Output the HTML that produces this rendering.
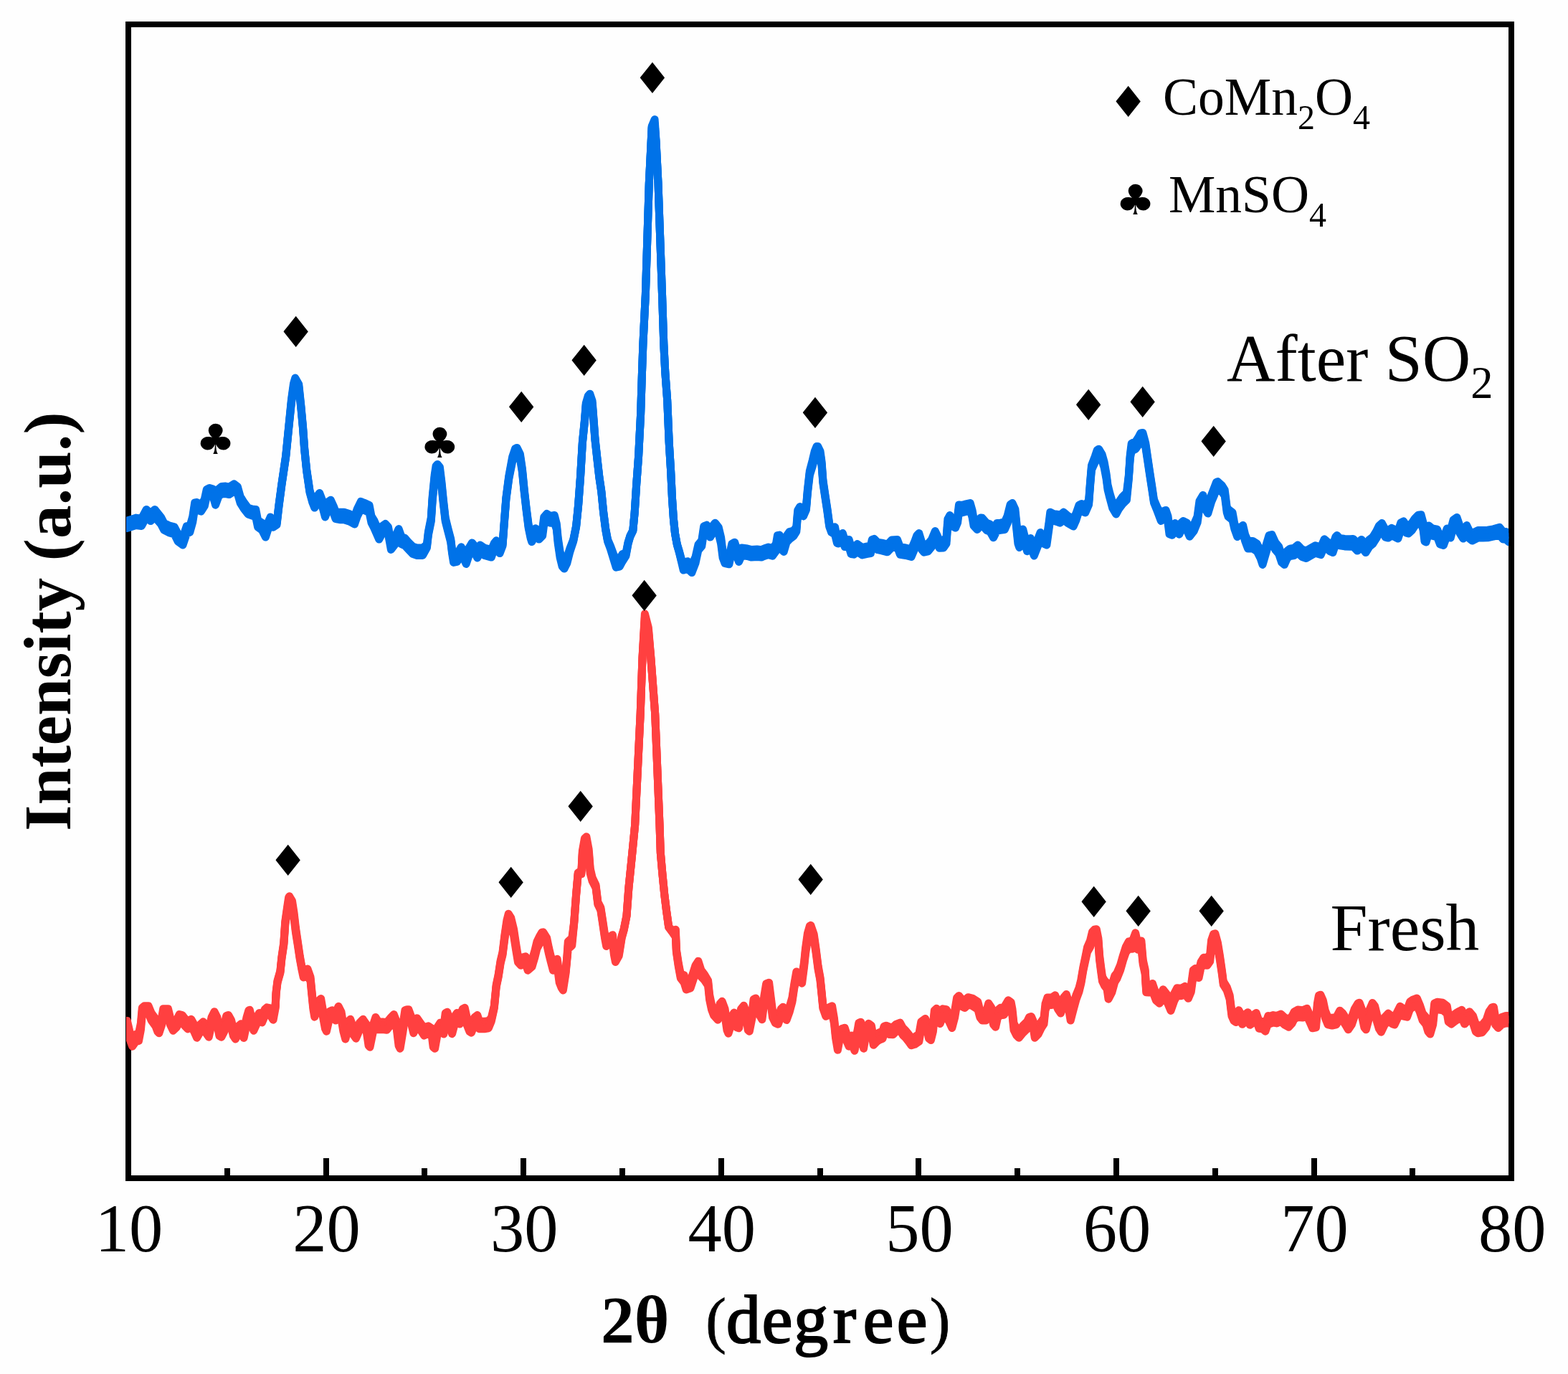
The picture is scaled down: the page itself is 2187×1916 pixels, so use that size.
<!DOCTYPE html>
<html lang="en"><head><meta charset="utf-8"><title>XRD patterns</title>
<style>
html,body{margin:0;padding:0;background:#fefefe;}
body{width:2187px;height:1916px;overflow:hidden;}
svg{display:block;}
text{font-family:"Liberation Serif","DejaVu Serif",serif;fill:#000;}
.tick{font-size:94.5px;text-anchor:middle;}
.lab{font-size:93.5px;}
.leg{font-size:73.5px;}
.b{font-weight:bold;}
.sym{font-family:"DejaVu Sans","Liberation Sans",sans-serif;text-anchor:middle;}
</style></head><body>
<svg width="2187" height="1916" viewBox="0 0 2187 1916">
<rect x="0" y="0" width="2187" height="1916" fill="#fefefe"/>
<defs><clipPath id="plotclip"><rect x="176" y="34" width="1928.3" height="1609"/></clipPath></defs>
<rect x="179" y="34" width="1929" height="1609" fill="none" stroke="#000" stroke-width="8"/>
<rect x="313" y="1629" width="8" height="14" fill="#000"/>
<rect x="451" y="1615" width="8" height="28" fill="#000"/>
<rect x="588" y="1629" width="8" height="14" fill="#000"/>
<rect x="726" y="1615" width="8" height="28" fill="#000"/>
<rect x="864" y="1629" width="8" height="14" fill="#000"/>
<rect x="1002" y="1615" width="8" height="28" fill="#000"/>
<rect x="1140" y="1629" width="8" height="14" fill="#000"/>
<rect x="1277" y="1615" width="8" height="28" fill="#000"/>
<rect x="1415" y="1629" width="8" height="14" fill="#000"/>
<rect x="1553" y="1615" width="8" height="28" fill="#000"/>
<rect x="1691" y="1629" width="8" height="14" fill="#000"/>
<rect x="1829" y="1615" width="8" height="28" fill="#000"/>
<rect x="1966" y="1629" width="8" height="14" fill="#000"/>
<g clip-path="url(#plotclip)" fill="none" stroke="#0072e8" stroke-width="11" stroke-linejoin="round" stroke-linecap="butt">
<path d="M173.0,726.0 L177.8,726.0 L189.6,722.1 L197.4,723.1 L204.2,710.4 L210.1,716.2 L215.9,710.4 L224.7,721.4 L228.7,729.3 L236.5,733.2 L243.3,734.9 L248.2,744.6 L255.0,749.5 L260.3,733.8 L264.8,734.0 L268.7,720.5 L271.7,700.9 L274.6,700.5 L280.5,704.3 L285.3,696.2 L288.3,682.4 L292.2,680.6 L297.1,682.1 L300.6,693.8 L304.9,682.0 L308.8,678.6 L314.7,678.1 L319.6,679.1 L326.4,674.8 L331.3,678.6 L335.2,692.4 L340.1,700.3 L346.0,708.2 L351.8,710.1 L356.7,710.4 L359.6,725.4 L365.5,729.1 L370.4,738.6 L374.3,727.4 L377.2,721.0 L381.1,729.2 L386.0,728.4 L389.0,703.4 L392.9,674.4 L398.7,635.4 L402.6,596.0 L406.6,555.9 L409.5,534.8 L411.8,527.1 L416.7,535.7 L419.9,566.1 L422.6,595.8 L424.7,625.3 L427.7,654.7 L432.0,683.8 L435.9,697.0 L438.8,697.6 L442.7,691.3 L445.7,687.5 L450.5,699.9 L453.5,710.4 L457.8,699.7 L461.3,697.2 L465.2,705.7 L468.1,713.4 L475.0,714.3 L479.9,714.2 L487.7,716.8 L494.5,720.5 L498.4,709.4 L503.3,699.5 L509.2,701.7 L515.1,704.5 L518.0,719.8 L521.9,726.0 L528.7,741.6 L533.6,733.2 L537.5,730.5 L541.5,735.0 L545.4,755.9 L551.2,748.5 L556.1,737.6 L560.0,748.6 L564.9,750.5 L570.0,756.5 L575.9,762.2 L581.7,764.0 L589.6,764.0 L595.4,759.2 L597.4,741.6 L601.3,721.9 L603.2,692.3 L606.2,662.1 L608.1,649.6 L610.1,647.4 L613.4,651.3 L615.9,671.8 L618.3,696.1 L621.2,722.0 L625.1,737.9 L628.7,751.4 L630.6,766.8 L632.6,773.9 L637.4,772.9 L643.3,762.8 L646.6,768.1 L650.2,775.9 L654.1,764.1 L658.4,756.9 L662.9,762.2 L665.8,767.5 L669.7,760.1 L675.6,764.1 L685.3,766.6 L689.3,757.5 L692.2,753.8 L697.1,761.1 L701.0,757.9 L702.9,732.6 L705.9,693.6 L709.8,663.8 L714.7,637.1 L718.6,625.5 L721.1,624.4 L725.4,633.2 L728.4,653.6 L731.3,683.3 L734.2,708.8 L737.2,732.0 L740.1,745.1 L741.7,745.0 L746.9,736.8 L751.8,741.6 L756.7,736.9 L758.7,721.1 L762.6,716.5 L767.5,719.6 L773.3,718.5 L776.3,730.4 L778.2,749.9 L781.1,769.2 L784.1,780.2 L787.0,782.6 L790.9,777.0 L794.8,765.1 L799.7,752.5 L803.6,733.3 L806.6,704.0 L809.5,664.9 L812.4,615.9 L815.4,586.0 L817.3,562.0 L820.2,552.2 L822.8,549.2 L826.1,559.0 L828.1,585.4 L830.0,611.4 L833.0,639.2 L835.9,664.8 L838.8,684.4 L841.7,713.7 L844.7,737.0 L847.6,752.3 L851.5,761.4 L855.4,772.0 L859.3,780.8 L864.2,779.8 L868.1,772.5 L873.0,771.3 L876.0,756.4 L878.9,747.0 L882.8,739.6 L885.2,714.3 L887.7,675.3 L890.6,636.2 L893.6,577.6 L895.5,519.0 L896.9,479.9 L900.4,409.8 L905.3,255.1 L909.2,175.8 L913.1,166.6 L915.0,195.7 L918.0,255.1 L923.5,409.8 L925.8,479.8 L927.8,519.0 L930.7,558.0 L933.2,616.7 L935.6,655.8 L937.5,694.9 L939.5,724.1 L941.5,743.5 L944.4,759.0 L947.3,768.3 L950.3,779.5 L953.2,784.6 L959.1,782.8 L964.9,788.1 L970.0,776.9 L973.9,759.6 L978.8,753.6 L981.7,733.9 L985.6,732.2 L990.5,738.6 L994.4,733.0 L997.4,729.2 L1002.3,735.5 L1005.6,749.3 L1008.1,768.8 L1011.1,776.5 L1016.9,776.2 L1020.8,758.3 L1024.7,756.2 L1028.7,768.1 L1030.6,772.9 L1034.5,764.0 L1042.3,765.0 L1048.2,766.6 L1056.0,766.0 L1061.9,766.6 L1065.8,765.0 L1071.7,763.1 L1077.5,764.6 L1082.4,758.5 L1084.4,746.7 L1087.3,746.1 L1090.2,756.6 L1093.2,758.9 L1097.1,747.2 L1101.0,741.6 L1106.9,740.1 L1110.8,734.8 L1112.7,711.6 L1115.7,706.5 L1120.5,709.4 L1124.4,706.3 L1126.4,682.8 L1129.3,657.0 L1133.2,642.1 L1136.2,629.4 L1139.1,622.5 L1140.7,622.4 L1144.0,629.1 L1146.0,643.4 L1147.9,669.3 L1150.8,689.1 L1153.8,708.7 L1156.7,730.1 L1159.6,737.7 L1164.5,734.8 L1167.5,750.0 L1169.4,747.5 L1175.3,743.5 L1178.2,752.7 L1184.1,752.4 L1187.0,762.3 L1190.9,762.8 L1195.8,758.6 L1202.6,763.5 L1208.5,762.2 L1214.4,761.1 L1216.3,752.4 L1219.3,751.4 L1224.2,756.3 L1230.0,757.2 L1237.8,759.2 L1243.7,753.0 L1251.5,752.4 L1255.4,762.8 L1263.3,764.0 L1271.1,766.0 L1276.0,754.4 L1278.9,746.5 L1281.8,743.5 L1285.7,756.3 L1288.7,759.6 L1294.5,758.2 L1299.4,752.4 L1304.3,740.6 L1307.2,746.7 L1310.2,753.8 L1316.0,753.4 L1320.0,749.3 L1321.9,723.9 L1324.8,718.5 L1329.7,725.9 L1332.7,725.5 L1335.6,719.8 L1337.5,703.9 L1341.5,704.5 L1347.3,702.9 L1353.2,701.5 L1356.1,711.7 L1358.1,723.4 L1363.0,728.0 L1367.8,722.0 L1370.0,722.3 L1375.9,729.1 L1380.8,730.9 L1385.6,739.2 L1390.5,729.5 L1395.4,729.2 L1401.3,728.0 L1405.2,719.2 L1409.1,703.5 L1412.0,701.5 L1415.9,710.0 L1417.9,729.8 L1419.9,749.4 L1421.8,753.0 L1426.7,738.0 L1429.6,749.1 L1432.6,758.2 L1437.4,750.5 L1442.3,764.5 L1447.2,752.6 L1451.1,742.5 L1456.0,749.2 L1459.9,749.5 L1462.9,729.8 L1464.8,714.2 L1469.7,716.6 L1474.6,717.1 L1478.5,718.8 L1483.4,714.2 L1489.3,719.2 L1497.1,723.6 L1501.0,715.8 L1504.9,704.5 L1508.8,702.5 L1513.7,704.5 L1518.6,698.1 L1520.5,672.6 L1522.5,648.9 L1527.4,636.1 L1530.3,627.5 L1532.7,626.2 L1537.2,633.9 L1540.1,644.3 L1543.0,660.5 L1545.0,676.2 L1547.9,687.8 L1551.8,700.9 L1556.7,706.5 L1560.6,699.9 L1565.5,692.8 L1571.4,686.9 L1574.3,663.3 L1576.3,634.0 L1578.2,618.5 L1584.1,615.5 L1588.0,609.6 L1590.9,603.9 L1593.9,603.4 L1597.8,618.0 L1600.7,638.0 L1603.6,657.7 L1606.6,677.2 L1609.5,696.8 L1614.4,708.1 L1619.3,715.9 L1623.2,712.6 L1626.1,711.4 L1629.0,719.7 L1631.0,735.2 L1634.9,735.8 L1638.8,729.5 L1644.7,734.8 L1647.6,729.0 L1650.5,726.5 L1655.4,729.1 L1659.3,737.8 L1665.2,731.5 L1670.1,720.1 L1673.0,698.6 L1677.9,690.4 L1681.8,702.4 L1684.8,705.5 L1689.6,690.3 L1693.6,680.1 L1696.5,672.3 L1698.4,671.6 L1704.3,676.8 L1708.2,683.1 L1711.2,706.9 L1713.1,710.0 L1719.0,714.6 L1721.9,730.5 L1725.8,738.0 L1729.7,735.7 L1733.6,732.5 L1736.6,745.3 L1740.5,754.4 L1747.3,754.4 L1753.2,758.2 L1758.1,768.1 L1761.0,776.9 L1765.9,760.2 L1770.0,746.5 L1773.9,745.5 L1778.8,756.3 L1783.7,762.3 L1787.6,774.0 L1791.5,776.9 L1795.4,768.1 L1799.3,765.1 L1805.2,764.1 L1810.1,760.1 L1815.9,766.1 L1821.8,768.0 L1828.7,764.1 L1834.5,760.8 L1842.3,763.1 L1847.2,751.8 L1850.2,754.4 L1855.0,758.3 L1859.0,760.1 L1862.9,748.5 L1864.8,746.5 L1868.7,750.5 L1875.6,751.4 L1883.4,751.8 L1887.3,751.4 L1893.2,757.6 L1899.0,752.4 L1904.9,760.1 L1909.8,752.6 L1914.7,748.8 L1919.6,740.9 L1923.5,733.0 L1927.4,729.5 L1932.3,738.7 L1936.2,739.6 L1941.1,736.4 L1946.0,738.7 L1949.9,740.6 L1953.8,729.0 L1957.7,727.0 L1961.6,733.0 L1964.5,733.5 L1969.4,729.0 L1973.3,723.1 L1978.2,718.2 L1982.1,717.8 L1985.1,729.1 L1987.0,744.7 L1989.0,745.5 L1992.9,732.9 L1997.8,736.9 L2004.6,738.2 L2008.5,748.5 L2013.4,749.9 L2018.3,736.9 L2023.2,739.6 L2027.1,725.0 L2032.0,721.5 L2035.9,732.9 L2040.8,740.6 L2045.7,732.5 L2049.6,740.7 L2053.5,743.5 L2061.3,739.6 L2068.1,739.6 L2075.0,739.2 L2082.8,737.8 L2091.6,735.4 L2096.5,741.7 L2100.4,741.6 L2104.7,745.6 L2108.0,745.6"/>
<path d="M173.0,731.2 L177.8,731.2 L189.6,727.3 L197.4,728.3 L204.2,715.6 L210.1,721.4 L215.9,715.6 L224.7,726.3 L228.7,734.2 L236.5,738.1 L243.3,740.0 L248.2,749.8 L255.0,754.7 L260.3,739.0 L264.8,738.1 L268.7,724.4 L271.7,704.8 L274.6,705.8 L280.5,708.7 L285.3,700.9 L288.3,687.2 L292.2,685.9 L297.1,687.2 L300.6,699.0 L304.9,687.2 L308.8,683.9 L314.7,683.3 L319.6,684.3 L326.4,680.0 L331.3,683.3 L335.2,697.0 L340.1,704.8 L346.0,712.6 L351.8,714.6 L356.7,715.6 L359.6,730.2 L365.5,734.2 L370.4,743.9 L374.3,732.2 L377.2,726.3 L381.1,732.2 L386.0,730.2 L389.0,704.8 L392.9,675.5 L398.7,636.4 L402.6,597.3 L406.6,558.2 L409.5,538.7 L411.8,532.4 L416.7,538.7 L419.9,568.0 L422.6,597.3 L424.7,626.6 L427.7,656.0 L432.0,685.3 L435.9,699.0 L438.8,702.9 L442.7,695.1 L445.7,692.7 L450.5,704.8 L453.5,715.6 L457.8,704.8 L461.3,702.5 L465.2,710.7 L468.1,718.5 L475.0,719.5 L479.9,719.5 L487.7,722.0 L494.5,725.8 L498.4,714.6 L503.3,704.8 L509.2,706.8 L515.1,709.7 L518.0,724.4 L521.9,731.2 L528.7,746.9 L533.6,738.1 L537.5,735.7 L541.5,740.0 L545.4,761.1 L551.2,753.7 L556.1,742.9 L560.0,753.7 L564.9,755.7 L570.0,761.5 L575.9,767.4 L581.7,769.3 L589.6,769.3 L595.4,761.5 L597.4,743.9 L601.3,724.4 L603.2,695.1 L606.2,665.7 L608.1,654.0 L610.1,652.6 L613.4,656.0 L615.9,675.5 L618.3,699.0 L621.2,724.4 L625.1,740.0 L628.7,753.7 L630.6,769.3 L632.6,779.1 L637.4,778.1 L643.3,768.0 L646.6,773.3 L650.2,781.1 L654.1,769.3 L658.4,762.1 L662.9,767.4 L665.8,772.7 L669.7,765.4 L675.6,769.3 L685.3,771.9 L689.3,761.5 L692.2,759.0 L697.1,766.4 L701.0,759.6 L702.9,734.2 L705.9,695.1 L709.8,665.7 L714.7,640.3 L718.6,630.5 L721.1,629.6 L725.4,636.4 L728.4,656.0 L731.3,685.3 L734.2,710.7 L737.2,734.2 L740.1,747.8 L741.7,750.2 L746.9,742.0 L751.8,746.9 L756.7,742.0 L758.7,726.3 L762.6,721.8 L767.5,724.4 L773.3,723.8 L776.3,734.2 L778.2,753.7 L781.1,773.3 L784.1,785.0 L787.0,787.9 L790.9,781.1 L794.8,767.4 L799.7,753.7 L803.6,734.2 L806.6,704.8 L809.5,665.7 L812.4,616.9 L815.4,587.5 L817.3,564.1 L820.2,556.2 L822.8,554.5 L826.1,562.1 L828.1,587.5 L830.0,612.9 L833.0,640.3 L835.9,665.7 L838.8,685.3 L841.7,714.6 L844.7,738.1 L847.6,753.7 L851.5,763.5 L855.4,775.2 L859.3,786.0 L864.2,785.0 L868.1,777.7 L873.0,773.3 L876.0,757.6 L878.9,747.8 L882.8,740.0 L885.2,714.6 L887.7,675.5 L890.6,636.4 L893.6,577.8 L895.5,519.1 L896.9,480.0 L900.4,410.0 L905.3,255.5 L909.2,177.3 L913.1,171.8 L915.0,196.9 L918.0,255.5 L923.5,410.0 L925.8,480.0 L927.8,519.1 L930.7,558.2 L933.2,616.9 L935.6,656.0 L937.5,695.1 L939.5,724.4 L941.5,743.9 L944.4,759.6 L947.3,769.3 L950.3,781.1 L953.2,789.9 L959.1,787.9 L964.9,793.4 L970.0,781.1 L973.9,763.5 L978.8,757.6 L981.7,738.1 L985.6,737.5 L990.5,743.9 L994.4,738.1 L997.4,734.5 L1002.3,740.0 L1005.6,753.7 L1008.1,773.3 L1011.1,781.1 L1016.9,781.5 L1020.8,763.5 L1024.7,761.5 L1028.7,773.3 L1030.6,778.1 L1034.5,769.3 L1042.3,770.3 L1048.2,771.9 L1056.0,771.3 L1061.9,771.9 L1065.8,770.3 L1071.7,768.4 L1077.5,769.9 L1082.4,763.5 L1084.4,751.7 L1087.3,751.4 L1090.2,761.5 L1093.2,764.1 L1097.1,751.7 L1101.0,746.9 L1106.9,743.9 L1110.8,738.1 L1112.7,714.6 L1115.7,711.7 L1120.5,714.6 L1124.4,708.7 L1126.4,685.3 L1129.3,659.9 L1133.2,646.2 L1136.2,634.4 L1139.1,627.6 L1140.7,627.6 L1144.0,632.5 L1146.0,646.2 L1147.9,671.6 L1150.8,691.1 L1153.8,710.7 L1156.7,732.2 L1159.6,740.0 L1164.5,740.0 L1167.5,753.7 L1169.4,752.7 L1175.3,748.8 L1178.2,757.6 L1184.1,757.6 L1187.0,767.4 L1190.9,768.0 L1195.8,763.9 L1202.6,768.8 L1208.5,767.4 L1214.4,766.4 L1216.3,757.6 L1219.3,756.6 L1224.2,761.5 L1230.0,762.5 L1237.8,764.5 L1243.7,758.2 L1251.5,757.6 L1255.4,768.0 L1263.3,769.3 L1271.1,771.3 L1276.0,759.6 L1278.9,751.7 L1281.8,748.8 L1285.7,761.5 L1288.7,764.9 L1294.5,763.5 L1299.4,757.6 L1304.3,745.9 L1307.2,751.7 L1310.2,759.0 L1316.0,758.6 L1320.0,753.7 L1321.9,728.3 L1324.8,723.8 L1329.7,730.2 L1332.7,730.8 L1335.6,724.4 L1337.5,708.7 L1341.5,709.7 L1347.3,708.1 L1353.2,706.8 L1356.1,716.6 L1358.1,728.3 L1363.0,733.2 L1367.8,727.3 L1370.0,727.3 L1375.9,734.2 L1380.8,736.1 L1385.6,744.5 L1390.5,734.7 L1395.4,734.2 L1401.3,733.2 L1405.2,724.4 L1409.1,708.7 L1412.0,706.8 L1415.9,714.6 L1417.9,734.2 L1419.9,753.7 L1421.8,758.2 L1426.7,743.3 L1429.6,753.7 L1432.6,763.5 L1437.4,755.7 L1442.3,769.7 L1447.2,757.6 L1451.1,747.8 L1456.0,753.7 L1459.9,754.7 L1462.9,734.2 L1464.8,719.5 L1469.7,721.4 L1474.6,722.4 L1478.5,724.0 L1483.4,719.5 L1489.3,724.4 L1497.1,728.9 L1501.0,720.5 L1504.9,708.7 L1508.8,707.8 L1513.7,709.7 L1518.6,700.9 L1520.5,675.5 L1522.5,652.0 L1527.4,640.3 L1530.3,632.5 L1532.7,631.5 L1537.2,638.4 L1540.1,648.1 L1543.0,663.8 L1545.0,679.4 L1547.9,691.1 L1551.8,704.8 L1556.7,711.7 L1560.6,704.8 L1565.5,698.0 L1571.4,692.1 L1574.3,665.7 L1576.3,636.4 L1578.2,623.7 L1584.1,620.8 L1588.0,614.9 L1590.9,609.0 L1593.9,608.6 L1597.8,620.8 L1600.7,640.3 L1603.6,659.9 L1606.6,679.4 L1609.5,699.0 L1614.4,710.7 L1619.3,721.1 L1623.2,716.6 L1626.1,716.6 L1629.0,724.4 L1631.0,740.0 L1634.9,741.0 L1638.8,734.7 L1644.7,740.0 L1647.6,734.2 L1650.5,731.8 L1655.4,734.2 L1659.3,743.0 L1665.2,736.1 L1670.1,724.4 L1673.0,702.9 L1677.9,695.6 L1681.8,706.8 L1684.8,710.7 L1689.6,695.1 L1693.6,685.3 L1696.5,677.5 L1698.4,676.9 L1704.3,681.4 L1708.2,687.2 L1711.2,710.7 L1713.1,715.2 L1719.0,719.9 L1721.9,734.2 L1725.8,743.3 L1729.7,740.0 L1733.6,737.7 L1736.6,749.8 L1740.5,759.6 L1747.3,759.6 L1753.2,763.5 L1758.1,773.3 L1761.0,782.1 L1765.9,765.4 L1770.0,751.7 L1773.9,750.8 L1778.8,761.5 L1783.7,767.4 L1787.6,779.1 L1791.5,782.1 L1795.4,773.3 L1799.3,770.3 L1805.2,769.3 L1810.1,765.4 L1815.9,771.3 L1821.8,773.3 L1828.7,769.3 L1834.5,766.0 L1842.3,768.4 L1847.2,757.0 L1850.2,759.6 L1855.0,763.5 L1859.0,765.4 L1862.9,753.7 L1864.8,751.7 L1868.7,755.7 L1875.6,756.6 L1883.4,757.0 L1887.3,756.6 L1893.2,762.9 L1899.0,757.6 L1904.9,765.4 L1909.8,757.6 L1914.7,753.7 L1919.6,745.9 L1923.5,738.1 L1927.4,734.7 L1932.3,743.9 L1936.2,744.9 L1941.1,741.6 L1946.0,743.9 L1949.9,745.9 L1953.8,734.2 L1957.7,732.2 L1961.6,738.1 L1964.5,738.7 L1969.4,734.2 L1973.3,728.3 L1978.2,723.4 L1982.1,723.0 L1985.1,734.2 L1987.0,749.8 L1989.0,750.8 L1992.9,738.1 L1997.8,742.0 L2004.6,743.5 L2008.5,753.7 L2013.4,755.1 L2018.3,742.0 L2023.2,744.9 L2027.1,730.2 L2032.0,726.7 L2035.9,738.1 L2040.8,745.9 L2045.7,737.7 L2049.6,745.9 L2053.5,748.8 L2061.3,744.9 L2068.1,744.9 L2075.0,744.5 L2082.8,743.0 L2091.6,740.6 L2096.5,746.9 L2100.4,746.9 L2104.7,750.8 L2108.0,750.8"/>
<path d="M173.0,736.4 L177.8,736.4 L189.6,732.5 L197.4,733.5 L204.2,720.9 L210.1,726.6 L215.9,720.9 L224.7,731.2 L228.7,739.1 L236.5,743.0 L243.3,745.1 L248.2,755.0 L255.0,760.0 L260.3,744.2 L264.8,742.2 L268.7,728.3 L271.7,708.7 L274.6,711.0 L280.5,713.1 L285.3,705.6 L288.3,692.0 L292.2,691.1 L297.1,692.3 L300.6,704.2 L304.9,692.4 L308.8,689.1 L314.7,688.5 L319.6,689.5 L326.4,685.2 L331.3,688.0 L335.2,701.6 L340.1,709.3 L346.0,717.0 L351.8,719.1 L356.7,720.9 L359.6,735.0 L365.5,739.3 L370.4,749.1 L374.3,737.0 L377.2,731.5 L381.1,735.2 L386.0,732.0 L389.0,706.2 L392.9,676.6 L398.7,637.4 L402.6,598.6 L406.6,560.5 L409.5,542.6 L411.8,537.6 L416.7,541.7 L419.9,569.9 L422.6,598.8 L424.7,627.9 L427.7,657.3 L432.0,686.8 L435.9,701.0 L438.8,708.1 L442.7,698.9 L445.7,698.0 L450.5,709.7 L453.5,720.9 L457.8,709.9 L461.3,707.8 L465.2,715.7 L468.1,723.6 L475.0,724.7 L479.9,724.8 L487.7,727.2 L494.5,731.0 L498.4,719.8 L503.3,710.0 L509.2,711.9 L515.1,715.0 L518.0,729.0 L521.9,736.5 L528.7,752.1 L533.6,743.0 L537.5,741.0 L541.5,745.0 L545.4,766.4 L551.2,758.9 L556.1,748.1 L560.0,758.8 L564.9,761.0 L570.0,766.5 L575.9,772.6 L581.7,774.5 L589.6,774.5 L595.4,763.8 L597.4,746.2 L601.3,726.9 L603.2,697.9 L606.2,669.3 L608.1,658.4 L610.1,657.9 L613.4,660.7 L615.9,679.2 L618.3,701.9 L621.2,726.8 L625.1,742.1 L628.7,756.0 L630.6,771.8 L632.6,784.4 L637.4,783.4 L643.3,773.2 L646.6,778.5 L650.2,786.4 L654.1,774.5 L658.4,767.4 L662.9,772.6 L665.8,778.0 L669.7,770.6 L675.6,774.5 L685.3,777.1 L689.3,765.5 L692.2,764.2 L697.1,771.6 L701.0,761.3 L702.9,735.8 L705.9,696.6 L709.8,667.6 L714.7,643.5 L718.6,635.5 L721.1,634.9 L725.4,639.6 L728.4,658.4 L731.3,687.3 L734.2,712.6 L737.2,736.4 L740.1,750.5 L741.7,755.5 L746.9,747.2 L751.8,752.1 L756.7,747.1 L758.7,731.5 L762.6,727.0 L767.5,729.2 L773.3,729.0 L776.3,738.0 L778.2,757.5 L781.1,777.4 L784.1,789.8 L787.0,793.1 L790.9,785.2 L794.8,769.7 L799.7,754.9 L803.6,735.1 L806.6,705.6 L809.5,666.5 L812.4,617.9 L815.4,589.0 L817.3,566.2 L820.2,560.2 L822.8,559.8 L826.1,565.2 L828.1,589.6 L830.0,614.4 L833.0,641.4 L835.9,666.6 L838.8,686.2 L841.7,715.5 L844.7,739.2 L847.6,755.1 L851.5,765.6 L855.4,778.4 L859.3,791.2 L864.2,790.2 L868.1,783.0 L873.0,775.3 L876.0,758.8 L878.9,748.6 L882.8,740.4 L885.2,714.9 L887.7,675.7 L890.6,636.6 L893.6,578.0 L895.5,519.2 L896.9,480.1 L900.4,410.2 L905.3,255.9 L909.2,178.8 L913.1,177.1 L915.0,198.1 L918.0,255.9 L923.5,410.2 L925.8,480.2 L927.8,519.2 L930.7,558.4 L933.2,617.1 L935.6,656.2 L937.5,695.3 L939.5,724.7 L941.5,744.3 L944.4,760.2 L947.3,770.3 L950.3,782.7 L953.2,795.1 L959.1,793.0 L964.9,798.6 L970.0,785.3 L973.9,767.4 L978.8,761.6 L981.7,742.3 L985.6,742.8 L990.5,749.1 L994.4,743.2 L997.4,739.8 L1002.3,744.5 L1005.6,758.1 L1008.1,777.8 L1011.1,785.7 L1016.9,786.8 L1020.8,768.7 L1024.7,766.8 L1028.7,778.5 L1030.6,783.4 L1034.5,774.5 L1042.3,775.5 L1048.2,777.1 L1056.0,776.5 L1061.9,777.1 L1065.8,775.5 L1071.7,773.6 L1077.5,775.1 L1082.4,768.5 L1084.4,756.7 L1087.3,756.6 L1090.2,766.4 L1093.2,769.4 L1097.1,756.2 L1101.0,752.1 L1106.9,747.7 L1110.8,741.4 L1112.7,717.6 L1115.7,717.0 L1120.5,719.9 L1124.4,711.1 L1126.4,687.8 L1129.3,662.8 L1133.2,650.3 L1136.2,639.4 L1139.1,632.7 L1140.7,632.9 L1144.0,635.9 L1146.0,649.0 L1147.9,673.9 L1150.8,693.1 L1153.8,712.7 L1156.7,734.3 L1159.6,742.3 L1164.5,745.2 L1167.5,757.4 L1169.4,758.0 L1175.3,754.0 L1178.2,762.5 L1184.1,762.9 L1187.0,772.5 L1190.9,773.2 L1195.8,769.1 L1202.6,774.0 L1208.5,772.6 L1214.4,771.6 L1216.3,762.8 L1219.3,761.9 L1224.2,766.7 L1230.0,767.8 L1237.8,769.8 L1243.7,763.5 L1251.5,762.9 L1255.4,773.2 L1263.3,774.5 L1271.1,776.5 L1276.0,764.8 L1278.9,756.9 L1281.8,754.0 L1285.7,766.7 L1288.7,770.1 L1294.5,768.8 L1299.4,762.8 L1304.3,751.1 L1307.2,756.7 L1310.2,764.2 L1316.0,763.9 L1320.0,758.1 L1321.9,732.7 L1324.8,729.0 L1329.7,734.5 L1332.7,736.0 L1335.6,729.0 L1337.5,713.5 L1341.5,715.0 L1347.3,713.4 L1353.2,712.0 L1356.1,721.5 L1358.1,733.2 L1363.0,738.5 L1367.8,732.5 L1370.0,732.3 L1375.9,739.3 L1380.8,741.3 L1385.6,749.8 L1390.5,740.0 L1395.4,739.2 L1401.3,738.5 L1405.2,729.6 L1409.1,713.9 L1412.0,712.0 L1415.9,719.2 L1417.9,738.6 L1419.9,758.0 L1421.8,763.5 L1426.7,748.5 L1429.6,758.3 L1432.6,768.8 L1437.4,761.0 L1442.3,775.0 L1447.2,762.6 L1451.1,753.0 L1456.0,758.2 L1459.9,760.0 L1462.9,738.6 L1464.8,724.8 L1469.7,726.2 L1474.6,727.6 L1478.5,729.2 L1483.4,724.8 L1489.3,729.6 L1497.1,734.1 L1501.0,725.2 L1504.9,712.9 L1508.8,713.0 L1513.7,715.0 L1518.6,703.7 L1520.5,678.4 L1522.5,655.1 L1527.4,644.5 L1530.3,637.5 L1532.7,636.8 L1537.2,642.9 L1540.1,651.9 L1543.0,667.1 L1545.0,682.6 L1547.9,694.4 L1551.8,708.7 L1556.7,717.0 L1560.6,709.7 L1565.5,703.2 L1571.4,697.4 L1574.3,668.1 L1576.3,638.8 L1578.2,629.0 L1584.1,626.0 L1588.0,620.1 L1590.9,614.1 L1593.9,613.9 L1597.8,623.6 L1600.7,642.6 L1603.6,662.1 L1606.6,681.6 L1609.5,701.2 L1614.4,713.3 L1619.3,726.4 L1623.2,720.6 L1626.1,721.9 L1629.0,729.1 L1631.0,744.8 L1634.9,746.2 L1638.8,740.0 L1644.7,745.2 L1647.6,739.4 L1650.5,737.0 L1655.4,739.3 L1659.3,748.2 L1665.2,740.7 L1670.1,728.7 L1673.0,707.2 L1677.9,700.9 L1681.8,711.2 L1684.8,716.0 L1689.6,699.9 L1693.6,690.5 L1696.5,682.7 L1698.4,682.1 L1704.3,686.0 L1708.2,691.3 L1711.2,714.5 L1713.1,720.5 L1719.0,725.1 L1721.9,737.9 L1725.8,748.5 L1729.7,744.3 L1733.6,743.0 L1736.6,754.3 L1740.5,764.9 L1747.3,764.9 L1753.2,768.8 L1758.1,778.5 L1761.0,787.4 L1765.9,770.6 L1770.0,756.9 L1773.9,756.0 L1778.8,766.7 L1783.7,772.5 L1787.6,784.2 L1791.5,787.4 L1795.4,778.5 L1799.3,775.5 L1805.2,774.5 L1810.1,770.6 L1815.9,776.5 L1821.8,778.5 L1828.7,774.5 L1834.5,771.2 L1842.3,773.6 L1847.2,762.2 L1850.2,764.8 L1855.0,768.7 L1859.0,770.6 L1862.9,758.9 L1864.8,757.0 L1868.7,760.9 L1875.6,761.9 L1883.4,762.2 L1887.3,761.9 L1893.2,768.1 L1899.0,762.9 L1904.9,770.6 L1909.8,762.6 L1914.7,758.6 L1919.6,750.9 L1923.5,743.2 L1927.4,740.0 L1932.3,749.1 L1936.2,750.1 L1941.1,746.9 L1946.0,749.1 L1949.9,751.1 L1953.8,739.4 L1957.7,737.5 L1961.6,743.2 L1964.5,744.0 L1969.4,739.4 L1973.3,733.5 L1978.2,728.6 L1982.1,728.2 L1985.1,739.3 L1987.0,754.9 L1989.0,756.0 L1992.9,743.4 L1997.8,747.1 L2004.6,748.8 L2008.5,758.9 L2013.4,760.4 L2018.3,747.1 L2023.2,750.1 L2027.1,735.4 L2032.0,732.0 L2035.9,743.3 L2040.8,751.1 L2045.7,743.0 L2049.6,751.1 L2053.5,754.0 L2061.3,750.1 L2068.1,750.1 L2075.0,749.8 L2082.8,748.2 L2091.6,745.9 L2096.5,752.1 L2100.4,752.1 L2104.7,756.0 L2108.0,756.0"/>
</g>
<g clip-path="url(#plotclip)" fill="none" stroke="#ff4040" stroke-width="11" stroke-linejoin="round" stroke-linecap="butt">
<path d="M173.0,1423.5 L177.4,1423.5 L180.8,1438.1 L184.7,1448.8 L189.6,1442.2 L193.5,1441.0 L196.4,1426.8 L198.3,1405.3 L201.3,1402.8 L207.1,1402.8 L211.1,1412.6 L216.9,1420.5 L219.9,1428.3 L221.8,1430.2 L225.7,1418.5 L227.7,1406.8 L234.5,1406.8 L237.4,1418.5 L241.4,1426.7 L246.2,1422.4 L250.2,1414.5 L254.1,1415.5 L258.0,1420.5 L261.9,1424.3 L266.8,1421.3 L270.7,1428.4 L274.6,1436.7 L279.5,1428.3 L283.4,1424.8 L287.3,1430.2 L291.2,1435.7 L295.1,1418.5 L299.0,1410.7 L302.9,1418.5 L305.9,1434.1 L308.8,1435.7 L312.7,1428.3 L315.7,1416.5 L318.6,1415.5 L322.5,1422.4 L325.4,1434.1 L328.4,1438.5 L333.2,1430.2 L336.2,1427.7 L340.1,1437.0 L344.0,1418.6 L346.9,1408.8 L348.3,1408.2 L350.8,1418.6 L353.8,1426.7 L357.7,1418.6 L361.6,1412.5 L365.5,1415.5 L369.4,1407.4 L372.3,1404.8 L377.2,1405.8 L381.1,1411.7 L384.1,1402.5 L385.1,1383.0 L387.0,1367.5 L390.9,1353.8 L392.9,1334.2 L395.8,1314.4 L397.8,1284.7 L400.7,1264.2 L402.6,1251.5 L403.6,1249.8 L407.5,1256.4 L410.1,1273.0 L412.4,1293.4 L415.4,1313.7 L418.3,1333.6 L421.2,1349.4 L423.2,1352.5 L429.0,1351.0 L433.0,1362.4 L434.9,1381.7 L436.9,1401.1 L438.8,1407.8 L443.7,1396.2 L447.6,1392.5 L450.5,1409.3 L453.5,1424.7 L455.4,1427.7 L459.3,1410.7 L463.3,1408.7 L468.1,1412.5 L472.1,1403.3 L476.0,1410.9 L478.9,1428.6 L481.8,1438.5 L485.7,1424.5 L488.7,1421.3 L492.6,1432.2 L496.5,1437.7 L501.4,1426.3 L506.3,1421.3 L511.2,1428.3 L514.1,1447.8 L516.0,1449.8 L520.0,1430.2 L523.9,1418.5 L527.8,1425.3 L533.6,1425.0 L539.5,1425.7 L545.4,1418.5 L549.3,1414.5 L553.2,1424.4 L556.1,1447.8 L558.1,1451.7 L562.0,1428.3 L564.9,1408.7 L567.8,1407.7 L570.0,1407.8 L573.9,1418.5 L576.8,1430.2 L581.7,1419.8 L586.6,1426.6 L591.5,1433.5 L597.4,1430.8 L602.3,1434.1 L604.2,1449.8 L606.6,1451.7 L610.1,1432.3 L614.0,1426.2 L618.9,1431.5 L621.2,1412.8 L623.8,1411.2 L627.7,1422.5 L630.6,1431.2 L634.5,1416.5 L637.4,1412.5 L641.4,1417.5 L645.3,1406.8 L648.2,1405.3 L651.1,1418.5 L655.0,1428.3 L657.4,1429.7 L661.9,1418.5 L665.8,1415.5 L668.7,1424.3 L675.6,1424.3 L681.4,1423.3 L685.3,1419.3 L689.3,1402.4 L692.2,1373.2 L695.1,1359.5 L698.1,1339.9 L701.0,1327.9 L703.9,1303.8 L706.9,1283.3 L709.2,1274.3 L712.7,1279.7 L716.6,1295.8 L719.6,1315.9 L722.5,1333.6 L726.4,1335.8 L733.2,1333.8 L736.2,1342.8 L742.0,1338.8 L746.0,1325.2 L748.9,1313.2 L752.8,1305.2 L755.7,1300.2 L757.7,1299.8 L762.6,1307.7 L765.5,1321.9 L768.4,1333.7 L771.4,1342.8 L777.2,1337.3 L780.2,1359.9 L783.1,1368.3 L785.4,1370.5 L789.0,1352.9 L790.9,1333.7 L792.3,1312.8 L797.8,1308.0 L800.7,1285.8 L803.6,1246.6 L806.2,1217.0 L810.9,1214.1 L812.4,1186.1 L815.4,1169.1 L817.9,1166.8 L821.2,1184.6 L823.2,1211.0 L826.1,1223.6 L831.0,1233.9 L833.9,1257.6 L837.8,1265.4 L840.8,1284.7 L843.7,1303.8 L845.7,1309.0 L850.5,1306.3 L854.5,1303.7 L856.4,1320.8 L858.4,1331.0 L863.3,1327.1 L867.2,1304.8 L870.1,1295.6 L874.0,1276.5 L876.9,1237.6 L880.9,1198.6 L883.8,1169.3 L885.7,1149.7 L893.2,995.1 L896.0,916.7 L899.4,855.9 L904.3,874.8 L907.8,916.4 L913.7,995.2 L920.0,1149.7 L921.3,1188.8 L923.9,1218.1 L926.8,1247.4 L929.7,1270.7 L932.7,1292.1 L937.5,1297.5 L942.4,1296.2 L943.4,1324.1 L946.3,1343.2 L949.3,1358.2 L954.2,1359.8 L957.1,1369.5 L963.0,1367.7 L966.9,1355.9 L970.0,1346.2 L973.9,1340.2 L977.8,1352.5 L982.7,1359.1 L987.6,1367.3 L989.6,1386.9 L992.5,1400.6 L995.4,1408.3 L1001.3,1411.7 L1004.2,1399.6 L1007.1,1396.3 L1011.1,1407.0 L1014.0,1426.4 L1015.9,1430.8 L1019.9,1418.5 L1023.8,1412.0 L1027.7,1422.4 L1030.6,1423.3 L1033.5,1406.9 L1037.4,1402.2 L1041.4,1412.6 L1043.3,1426.4 L1045.3,1427.8 L1049.2,1409.1 L1051.1,1393.5 L1054.1,1392.0 L1059.0,1405.0 L1062.9,1411.2 L1065.8,1389.2 L1068.7,1371.6 L1072.6,1370.2 L1075.0,1389.4 L1077.5,1409.0 L1081.4,1416.7 L1085.3,1417.8 L1089.3,1406.8 L1092.2,1404.2 L1097.1,1412.0 L1101.0,1404.5 L1104.9,1391.4 L1107.8,1372.0 L1110.8,1355.0 L1115.7,1360.5 L1118.6,1360.8 L1121.5,1342.2 L1123.5,1322.2 L1126.4,1301.6 L1129.3,1291.4 L1130.9,1290.3 L1135.2,1302.8 L1138.1,1323.2 L1141.1,1347.1 L1144.0,1363.1 L1146.0,1382.7 L1147.9,1402.3 L1151.8,1406.8 L1160.6,1402.8 L1163.5,1420.0 L1165.5,1439.3 L1168.4,1453.7 L1171.4,1438.7 L1174.3,1434.5 L1178.2,1433.2 L1181.1,1442.1 L1184.1,1448.8 L1188.0,1443.9 L1191.9,1454.7 L1195.8,1438.1 L1197.8,1426.3 L1200.7,1425.2 L1202.6,1438.1 L1204.6,1451.7 L1207.5,1434.1 L1211.4,1427.2 L1215.4,1430.2 L1218.3,1446.8 L1223.2,1442.0 L1226.1,1440.0 L1231.0,1438.1 L1233.0,1431.2 L1235.9,1430.2 L1240.8,1432.2 L1245.7,1432.2 L1249.6,1428.3 L1255.4,1426.2 L1259.3,1433.3 L1263.3,1437.2 L1267.2,1442.0 L1271.1,1447.3 L1276.0,1445.9 L1281.8,1442.0 L1284.8,1424.7 L1290.6,1420.5 L1293.6,1428.6 L1295.5,1438.4 L1298.4,1440.0 L1301.4,1428.6 L1303.3,1409.0 L1306.3,1406.2 L1311.2,1417.0 L1315.1,1406.8 L1320.0,1407.7 L1323.9,1414.7 L1327.8,1423.0 L1331.7,1409.0 L1334.6,1391.4 L1337.5,1388.5 L1341.5,1393.2 L1345.4,1395.0 L1350.3,1390.7 L1356.1,1392.0 L1363.9,1397.0 L1366.9,1408.9 L1370.0,1412.5 L1374.9,1412.5 L1378.8,1399.0 L1382.7,1404.8 L1385.6,1418.5 L1388.6,1421.8 L1391.5,1408.7 L1395.4,1405.3 L1400.3,1404.8 L1406.2,1394.7 L1410.1,1397.4 L1412.0,1407.3 L1414.0,1426.8 L1417.9,1434.5 L1421.2,1436.7 L1426.7,1430.2 L1432.6,1424.4 L1435.5,1418.5 L1438.4,1417.5 L1441.4,1424.5 L1443.3,1436.7 L1448.2,1432.6 L1452.1,1425.1 L1456.0,1419.3 L1458.0,1399.7 L1460.9,1391.0 L1466.8,1391.0 L1471.7,1387.8 L1475.6,1397.0 L1479.5,1402.5 L1483.4,1391.1 L1487.3,1386.5 L1490.2,1395.2 L1493.2,1412.5 L1497.1,1400.3 L1501.0,1387.3 L1504.9,1378.0 L1507.8,1366.5 L1510.8,1348.9 L1513.7,1335.0 L1516.6,1320.6 L1520.5,1311.7 L1523.5,1299.2 L1526.4,1296.2 L1529.3,1295.7 L1531.9,1308.6 L1533.6,1332.3 L1535.6,1348.1 L1537.5,1361.8 L1540.5,1367.2 L1544.0,1370.5 L1546.0,1382.7 L1550.8,1373.5 L1554.8,1360.6 L1557.7,1357.1 L1562.6,1345.8 L1566.5,1332.1 L1570.4,1320.0 L1574.3,1312.8 L1579.2,1312.9 L1583.7,1300.8 L1587.0,1316.0 L1591.9,1312.0 L1594.2,1338.6 L1597.2,1352.3 L1598.7,1377.7 L1602.6,1377.3 L1607.5,1371.5 L1612.4,1386.0 L1617.3,1388.8 L1622.2,1379.8 L1628.1,1387.2 L1633.0,1399.0 L1637.8,1385.3 L1641.7,1377.8 L1647.6,1378.3 L1652.5,1375.5 L1657.4,1381.8 L1661.3,1374.3 L1664.2,1352.9 L1667.2,1350.5 L1672.1,1353.0 L1675.0,1341.5 L1678.9,1335.3 L1683.8,1335.8 L1687.7,1330.6 L1689.6,1311.0 L1692.6,1302.3 L1694.9,1301.8 L1698.4,1314.5 L1701.4,1332.7 L1704.3,1352.7 L1706.3,1368.4 L1711.2,1376.3 L1715.1,1387.8 L1718.0,1410.8 L1720.9,1416.2 L1723.9,1415.0 L1727.8,1408.7 L1732.7,1417.8 L1740.5,1411.7 L1743.4,1418.8 L1752.2,1412.5 L1756.1,1423.8 L1761.0,1424.4 L1764.9,1427.7 L1768.8,1416.5 L1770.0,1417.5 L1775.9,1415.6 L1780.8,1416.5 L1786.6,1414.0 L1791.5,1418.5 L1797.4,1421.8 L1802.3,1416.5 L1805.2,1410.7 L1810.1,1408.0 L1816.9,1408.7 L1822.8,1406.2 L1826.7,1414.6 L1830.6,1423.3 L1835.5,1422.4 L1837.4,1399.0 L1839.4,1388.2 L1841.9,1387.2 L1845.3,1395.0 L1848.2,1408.7 L1852.1,1418.5 L1858.0,1419.5 L1863.8,1418.5 L1868.7,1409.2 L1872.6,1412.6 L1876.5,1418.5 L1880.5,1425.3 L1885.3,1418.5 L1889.3,1406.8 L1894.1,1399.0 L1896.1,1398.3 L1900.0,1408.7 L1902.9,1422.4 L1905.3,1425.3 L1909.8,1408.7 L1914.3,1398.5 L1917.6,1402.9 L1920.5,1414.6 L1923.5,1424.4 L1926.4,1428.7 L1931.3,1418.5 L1936.2,1413.2 L1942.0,1417.6 L1945.0,1418.5 L1948.9,1410.9 L1952.8,1403.3 L1957.7,1406.9 L1962.6,1407.8 L1966.5,1397.0 L1970.4,1394.1 L1976.3,1392.0 L1980.2,1401.1 L1984.1,1412.8 L1989.0,1418.5 L1991.9,1428.3 L1994.8,1431.5 L1998.7,1418.6 L2000.7,1399.1 L2004.6,1397.3 L2012.4,1398.3 L2018.3,1402.9 L2020.2,1414.7 L2024.2,1417.5 L2031.0,1412.6 L2038.8,1408.2 L2042.7,1417.5 L2049.6,1410.7 L2054.5,1416.6 L2058.4,1428.3 L2061.3,1430.2 L2067.2,1429.2 L2073.0,1422.4 L2076.9,1410.7 L2080.9,1404.8 L2083.4,1404.2 L2085.7,1418.5 L2089.6,1423.0 L2094.5,1418.5 L2100.4,1416.5 L2104.7,1416.5 L2108.0,1416.5"/>
<path d="M173.0,1428.6 L177.4,1428.6 L180.8,1443.3 L184.7,1454.0 L189.6,1447.2 L193.5,1446.2 L196.4,1431.5 L198.3,1410.0 L201.3,1408.1 L207.1,1408.1 L211.1,1417.8 L216.9,1425.7 L219.9,1433.5 L221.8,1435.4 L225.7,1423.7 L227.7,1412.0 L234.5,1412.0 L237.4,1423.7 L241.4,1431.9 L246.2,1427.6 L250.2,1419.8 L254.1,1420.8 L258.0,1425.7 L261.9,1429.6 L266.8,1426.6 L270.7,1433.5 L274.6,1441.9 L279.5,1433.5 L283.4,1430.0 L287.3,1435.4 L291.2,1440.9 L295.1,1423.7 L299.0,1415.9 L302.9,1423.7 L305.9,1439.3 L308.8,1440.9 L312.7,1433.5 L315.7,1421.7 L318.6,1420.8 L322.5,1427.6 L325.4,1439.3 L328.4,1443.8 L333.2,1435.4 L336.2,1432.9 L340.1,1442.3 L344.0,1423.7 L346.9,1413.9 L348.3,1413.5 L350.8,1423.7 L353.8,1431.9 L357.7,1423.7 L361.6,1417.8 L365.5,1420.8 L369.4,1412.0 L372.3,1410.0 L377.2,1411.0 L381.1,1416.9 L384.1,1404.2 L385.1,1384.6 L387.0,1369.0 L390.9,1355.3 L392.9,1335.7 L395.8,1316.2 L397.8,1286.9 L400.7,1267.3 L402.6,1255.6 L403.6,1255.0 L407.5,1261.4 L410.1,1277.1 L412.4,1296.6 L415.4,1316.2 L418.3,1335.7 L421.2,1351.4 L423.2,1357.8 L429.0,1356.3 L433.0,1365.1 L434.9,1384.6 L436.9,1404.2 L438.8,1413.0 L443.7,1400.2 L447.6,1397.7 L450.5,1413.9 L453.5,1429.6 L455.4,1432.9 L459.3,1415.9 L463.3,1413.9 L468.1,1417.8 L472.1,1408.6 L476.0,1415.9 L478.9,1433.5 L481.8,1443.8 L485.7,1429.6 L488.7,1426.6 L492.6,1437.4 L496.5,1442.9 L501.4,1431.5 L506.3,1426.6 L511.2,1433.5 L514.1,1453.0 L516.0,1455.0 L520.0,1435.4 L523.9,1423.7 L527.8,1430.6 L533.6,1430.2 L539.5,1430.9 L545.4,1423.7 L549.3,1419.8 L553.2,1429.6 L556.1,1453.0 L558.1,1456.9 L562.0,1433.5 L564.9,1413.9 L567.8,1412.9 L570.0,1413.0 L573.9,1423.7 L576.8,1435.4 L581.7,1425.1 L586.6,1431.5 L591.5,1438.8 L597.4,1436.0 L602.3,1439.3 L604.2,1455.0 L606.6,1456.9 L610.1,1437.4 L614.0,1431.5 L618.9,1436.8 L621.2,1417.8 L623.8,1416.5 L627.7,1427.6 L630.6,1436.4 L634.5,1421.7 L637.4,1417.8 L641.4,1422.7 L645.3,1412.0 L648.2,1410.6 L651.1,1423.7 L655.0,1433.5 L657.4,1434.9 L661.9,1423.7 L665.8,1420.8 L668.7,1429.6 L675.6,1429.6 L681.4,1428.6 L685.3,1421.7 L689.3,1404.2 L692.2,1374.8 L695.1,1361.1 L698.1,1341.6 L701.0,1329.9 L703.9,1306.4 L706.9,1286.9 L709.2,1279.6 L712.7,1284.9 L716.6,1300.5 L719.6,1320.1 L722.5,1337.7 L726.4,1341.0 L733.2,1339.0 L736.2,1348.0 L742.0,1343.5 L746.0,1329.9 L748.9,1318.1 L752.8,1310.3 L755.7,1305.4 L757.7,1305.0 L762.6,1312.3 L765.5,1326.0 L768.4,1337.7 L771.4,1348.0 L777.2,1342.6 L780.2,1365.1 L783.1,1372.9 L785.4,1375.8 L789.0,1355.3 L790.9,1335.7 L792.3,1318.1 L797.8,1313.2 L800.7,1286.9 L803.6,1247.8 L806.2,1218.4 L810.9,1216.5 L812.4,1189.1 L815.4,1173.5 L817.9,1172.1 L821.2,1189.1 L823.2,1214.5 L826.1,1226.2 L831.0,1236.0 L833.9,1259.5 L837.8,1267.3 L840.8,1286.9 L843.7,1306.4 L845.7,1314.2 L850.5,1310.3 L854.5,1308.9 L856.4,1326.0 L858.4,1336.3 L863.3,1329.9 L867.2,1306.4 L870.1,1296.6 L874.0,1277.1 L876.9,1238.0 L880.9,1198.9 L883.8,1169.6 L885.7,1150.0 L893.2,995.5 L896.0,917.3 L899.4,861.1 L904.3,878.2 L907.8,917.3 L913.7,995.5 L920.0,1150.0 L921.3,1189.1 L923.9,1218.4 L926.8,1247.8 L929.7,1271.2 L932.7,1292.7 L937.5,1298.6 L942.4,1301.5 L943.4,1326.0 L946.3,1345.5 L949.3,1361.1 L954.2,1365.1 L957.1,1374.8 L963.0,1372.9 L966.9,1361.1 L970.0,1351.4 L973.9,1345.5 L977.8,1357.2 L982.7,1363.1 L987.6,1370.9 L989.6,1390.5 L992.5,1404.2 L995.4,1412.0 L1001.3,1416.9 L1004.2,1404.2 L1007.1,1401.6 L1011.1,1412.0 L1014.0,1431.5 L1015.9,1436.0 L1019.9,1423.7 L1023.8,1417.3 L1027.7,1427.6 L1030.6,1428.6 L1033.5,1412.0 L1037.4,1407.5 L1041.4,1417.8 L1043.3,1431.5 L1045.3,1433.1 L1049.2,1413.9 L1051.1,1398.3 L1054.1,1397.3 L1059.0,1410.0 L1062.9,1416.5 L1065.8,1394.4 L1068.7,1376.8 L1072.6,1375.4 L1075.0,1394.4 L1077.5,1413.9 L1081.4,1421.7 L1085.3,1423.1 L1089.3,1412.0 L1092.2,1409.4 L1097.1,1417.3 L1101.0,1408.1 L1104.9,1394.4 L1107.8,1374.8 L1110.8,1360.2 L1115.7,1363.1 L1118.6,1366.0 L1121.5,1345.5 L1123.5,1326.0 L1126.4,1306.4 L1129.3,1296.6 L1130.9,1295.6 L1135.2,1306.4 L1138.1,1326.0 L1141.1,1349.4 L1144.0,1365.1 L1146.0,1384.6 L1147.9,1404.2 L1151.8,1412.0 L1160.6,1408.1 L1163.5,1423.7 L1165.5,1443.3 L1168.4,1458.9 L1171.4,1443.3 L1174.3,1439.3 L1178.2,1438.4 L1181.1,1447.2 L1184.1,1454.0 L1188.0,1449.1 L1191.9,1459.9 L1195.8,1443.3 L1197.8,1431.5 L1200.7,1430.5 L1202.6,1443.3 L1204.6,1456.9 L1207.5,1439.3 L1211.4,1432.5 L1215.4,1435.4 L1218.3,1452.1 L1223.2,1447.2 L1226.1,1445.2 L1231.0,1443.3 L1233.0,1436.4 L1235.9,1435.4 L1240.8,1437.4 L1245.7,1437.4 L1249.6,1433.5 L1255.4,1431.5 L1259.3,1438.4 L1263.3,1442.3 L1267.2,1447.2 L1271.1,1452.6 L1276.0,1451.1 L1281.8,1447.2 L1284.8,1429.6 L1290.6,1425.7 L1293.6,1433.5 L1295.5,1443.3 L1298.4,1445.2 L1301.4,1433.5 L1303.3,1413.9 L1306.3,1411.4 L1311.2,1422.3 L1315.1,1412.0 L1320.0,1412.9 L1323.9,1419.8 L1327.8,1428.2 L1331.7,1413.9 L1334.6,1396.3 L1337.5,1393.8 L1341.5,1398.3 L1345.4,1400.2 L1350.3,1395.9 L1356.1,1397.3 L1363.9,1402.2 L1366.9,1413.9 L1370.0,1417.8 L1374.9,1417.8 L1378.8,1404.2 L1382.7,1410.0 L1385.6,1423.7 L1388.6,1427.0 L1391.5,1413.9 L1395.4,1410.6 L1400.3,1410.0 L1406.2,1399.9 L1410.1,1402.2 L1412.0,1412.0 L1414.0,1431.5 L1417.9,1439.3 L1421.2,1441.9 L1426.7,1435.4 L1432.6,1429.6 L1435.5,1423.7 L1438.4,1422.7 L1441.4,1429.6 L1443.3,1441.9 L1448.2,1437.4 L1452.1,1429.6 L1456.0,1423.7 L1458.0,1404.2 L1460.9,1396.3 L1466.8,1396.3 L1471.7,1393.0 L1475.6,1402.2 L1479.5,1407.7 L1483.4,1396.3 L1487.3,1391.8 L1490.2,1400.2 L1493.2,1417.8 L1497.1,1404.2 L1501.0,1390.5 L1504.9,1380.7 L1507.8,1369.0 L1510.8,1351.4 L1513.7,1337.7 L1516.6,1324.0 L1520.5,1316.2 L1523.5,1304.4 L1526.4,1301.5 L1529.3,1300.9 L1531.9,1312.3 L1533.6,1335.7 L1535.6,1351.4 L1537.5,1365.1 L1540.5,1370.9 L1544.0,1374.8 L1546.0,1387.9 L1550.8,1378.7 L1554.8,1365.1 L1557.7,1361.1 L1562.6,1349.4 L1566.5,1335.7 L1570.4,1324.0 L1574.3,1318.1 L1579.2,1318.1 L1583.7,1306.0 L1587.0,1320.1 L1591.9,1317.2 L1594.2,1341.6 L1597.2,1355.3 L1598.7,1380.7 L1602.6,1380.7 L1607.5,1376.8 L1612.4,1390.5 L1617.3,1394.0 L1622.2,1385.0 L1628.1,1392.4 L1633.0,1404.2 L1637.8,1390.5 L1641.7,1383.0 L1647.6,1383.6 L1652.5,1380.7 L1657.4,1387.1 L1661.3,1378.7 L1664.2,1357.2 L1667.2,1355.7 L1672.1,1358.2 L1675.0,1345.5 L1678.9,1340.6 L1683.8,1341.0 L1687.7,1335.7 L1689.6,1316.2 L1692.6,1307.4 L1694.9,1307.0 L1698.4,1318.1 L1701.4,1335.7 L1704.3,1355.3 L1706.3,1370.9 L1711.2,1378.7 L1715.1,1390.5 L1718.0,1413.9 L1720.9,1419.8 L1723.9,1420.2 L1727.8,1413.9 L1732.7,1423.1 L1740.5,1416.9 L1743.4,1424.1 L1752.2,1417.8 L1756.1,1429.0 L1761.0,1429.6 L1764.9,1432.9 L1768.8,1421.7 L1770.0,1422.7 L1775.9,1420.8 L1780.8,1421.7 L1786.6,1419.2 L1791.5,1423.7 L1797.4,1427.0 L1802.3,1421.7 L1805.2,1415.9 L1810.1,1413.3 L1816.9,1413.9 L1822.8,1411.4 L1826.7,1419.8 L1830.6,1428.6 L1835.5,1427.6 L1837.4,1404.2 L1839.4,1393.4 L1841.9,1392.4 L1845.3,1400.2 L1848.2,1413.9 L1852.1,1423.7 L1858.0,1424.7 L1863.8,1423.7 L1868.7,1414.5 L1872.6,1417.8 L1876.5,1423.7 L1880.5,1430.6 L1885.3,1423.7 L1889.3,1412.0 L1894.1,1404.2 L1896.1,1403.6 L1900.0,1413.9 L1902.9,1427.6 L1905.3,1430.6 L1909.8,1413.9 L1914.3,1403.8 L1917.6,1408.1 L1920.5,1419.8 L1923.5,1429.6 L1926.4,1433.9 L1931.3,1423.7 L1936.2,1418.4 L1942.0,1422.7 L1945.0,1423.7 L1948.9,1415.9 L1952.8,1408.6 L1957.7,1412.0 L1962.6,1413.0 L1966.5,1402.2 L1970.4,1399.3 L1976.3,1397.3 L1980.2,1406.1 L1984.1,1417.8 L1989.0,1423.7 L1991.9,1433.5 L1994.8,1436.8 L1998.7,1423.7 L2000.7,1404.2 L2004.6,1402.6 L2012.4,1403.6 L2018.3,1408.1 L2020.2,1419.8 L2024.2,1422.7 L2031.0,1417.8 L2038.8,1413.5 L2042.7,1422.7 L2049.6,1415.9 L2054.5,1421.7 L2058.4,1433.5 L2061.3,1435.4 L2067.2,1434.5 L2073.0,1427.6 L2076.9,1415.9 L2080.9,1410.0 L2083.4,1409.4 L2085.7,1423.7 L2089.6,1428.2 L2094.5,1423.7 L2100.4,1421.7 L2104.7,1421.7 L2108.0,1421.7"/>
<path d="M173.0,1433.7 L177.4,1433.7 L180.8,1448.5 L184.7,1459.2 L189.6,1452.2 L193.5,1451.5 L196.4,1436.2 L198.3,1414.7 L201.3,1413.3 L207.1,1413.3 L211.1,1423.0 L216.9,1430.9 L219.9,1438.7 L221.8,1440.7 L225.7,1428.9 L227.7,1417.2 L234.5,1417.2 L237.4,1428.9 L241.4,1437.2 L246.2,1432.8 L250.2,1425.0 L254.1,1426.0 L258.0,1430.9 L261.9,1434.8 L266.8,1431.8 L270.7,1438.6 L274.6,1447.2 L279.5,1438.7 L283.4,1435.2 L287.3,1440.6 L291.2,1446.2 L295.1,1428.9 L299.0,1421.2 L302.9,1428.9 L305.9,1444.5 L308.8,1446.2 L312.7,1438.7 L315.7,1426.9 L318.6,1426.0 L322.5,1432.8 L325.4,1444.5 L328.4,1449.0 L333.2,1440.6 L336.2,1438.2 L340.1,1447.5 L344.0,1428.8 L346.9,1419.0 L348.3,1418.8 L350.8,1428.8 L353.8,1437.2 L357.7,1428.8 L361.6,1423.0 L365.5,1426.0 L369.4,1416.6 L372.3,1415.2 L377.2,1416.2 L381.1,1422.2 L384.1,1405.9 L385.1,1386.2 L387.0,1370.5 L390.9,1356.8 L392.9,1337.2 L395.8,1318.0 L397.8,1289.1 L400.7,1270.4 L402.6,1259.7 L403.6,1260.2 L407.5,1266.4 L410.1,1281.2 L412.4,1299.8 L415.4,1318.7 L418.3,1337.8 L421.2,1353.4 L423.2,1363.0 L429.0,1361.5 L433.0,1367.8 L434.9,1387.5 L436.9,1407.3 L438.8,1418.2 L443.7,1404.2 L447.6,1403.0 L450.5,1418.5 L453.5,1434.5 L455.4,1438.2 L459.3,1421.1 L463.3,1419.2 L468.1,1423.0 L472.1,1413.8 L476.0,1420.9 L478.9,1438.4 L481.8,1449.0 L485.7,1434.7 L488.7,1431.8 L492.6,1442.6 L496.5,1448.2 L501.4,1436.7 L506.3,1431.8 L511.2,1438.7 L514.1,1458.2 L516.0,1460.2 L520.0,1440.6 L523.9,1429.0 L527.8,1435.8 L533.6,1435.5 L539.5,1436.2 L545.4,1428.9 L549.3,1425.0 L553.2,1434.8 L556.1,1458.2 L558.1,1462.2 L562.0,1438.7 L564.9,1419.1 L567.8,1418.2 L570.0,1418.2 L573.9,1428.9 L576.8,1440.7 L581.7,1430.3 L586.6,1436.4 L591.5,1444.0 L597.4,1441.2 L602.3,1444.5 L604.2,1460.2 L606.6,1462.2 L610.1,1442.5 L614.0,1436.8 L618.9,1442.0 L621.2,1422.8 L623.8,1421.8 L627.7,1432.7 L630.6,1441.7 L634.5,1426.9 L637.4,1423.0 L641.4,1428.0 L645.3,1417.2 L648.2,1415.8 L651.1,1428.9 L655.0,1438.7 L657.4,1440.2 L661.9,1428.9 L665.8,1426.0 L668.7,1434.8 L675.6,1434.8 L681.4,1433.8 L685.3,1424.1 L689.3,1406.0 L692.2,1376.4 L695.1,1362.7 L698.1,1343.3 L701.0,1331.9 L703.9,1309.0 L706.9,1290.5 L709.2,1284.8 L712.7,1290.1 L716.6,1305.2 L719.6,1324.3 L722.5,1341.8 L726.4,1346.2 L733.2,1344.2 L736.2,1353.2 L742.0,1348.2 L746.0,1334.6 L748.9,1323.0 L752.8,1315.4 L755.7,1310.6 L757.7,1310.2 L762.6,1316.9 L765.5,1330.1 L768.4,1341.7 L771.4,1353.2 L777.2,1347.8 L780.2,1370.3 L783.1,1377.5 L785.4,1381.0 L789.0,1357.7 L790.9,1337.7 L792.3,1323.3 L797.8,1318.5 L800.7,1288.0 L803.6,1249.0 L806.2,1219.8 L810.9,1218.9 L812.4,1192.1 L815.4,1177.9 L817.9,1177.3 L821.2,1193.6 L823.2,1218.0 L826.1,1228.8 L831.0,1238.1 L833.9,1261.4 L837.8,1269.2 L840.8,1289.1 L843.7,1309.0 L845.7,1319.5 L850.5,1314.3 L854.5,1314.2 L856.4,1331.2 L858.4,1341.5 L863.3,1332.7 L867.2,1308.0 L870.1,1297.6 L874.0,1277.7 L876.9,1238.4 L880.9,1199.2 L883.8,1169.9 L885.7,1150.3 L893.2,995.9 L896.0,917.9 L899.4,866.4 L904.3,881.6 L907.8,918.2 L913.7,995.8 L920.0,1150.3 L921.3,1189.4 L923.9,1218.7 L926.8,1248.2 L929.7,1271.7 L932.7,1293.3 L937.5,1299.7 L942.4,1306.8 L943.4,1327.9 L946.3,1347.8 L949.3,1364.0 L954.2,1370.3 L957.1,1380.0 L963.0,1378.1 L966.9,1366.3 L970.0,1356.6 L973.9,1350.8 L977.8,1361.9 L982.7,1367.1 L987.6,1374.5 L989.6,1394.1 L992.5,1407.8 L995.4,1415.7 L1001.3,1422.2 L1004.2,1408.8 L1007.1,1406.8 L1011.1,1417.0 L1014.0,1436.6 L1015.9,1441.2 L1019.9,1428.9 L1023.8,1422.5 L1027.7,1432.8 L1030.6,1433.8 L1033.5,1417.1 L1037.4,1412.8 L1041.4,1423.0 L1043.3,1436.6 L1045.3,1438.3 L1049.2,1418.7 L1051.1,1403.1 L1054.1,1402.5 L1059.0,1415.0 L1062.9,1421.8 L1065.8,1399.6 L1068.7,1382.0 L1072.6,1380.7 L1075.0,1399.4 L1077.5,1418.8 L1081.4,1426.7 L1085.3,1428.3 L1089.3,1417.2 L1092.2,1414.7 L1097.1,1422.5 L1101.0,1411.7 L1104.9,1397.4 L1107.8,1377.6 L1110.8,1365.5 L1115.7,1365.7 L1118.6,1371.2 L1121.5,1348.8 L1123.5,1329.8 L1126.4,1311.2 L1129.3,1301.8 L1130.9,1300.8 L1135.2,1310.0 L1138.1,1328.8 L1141.1,1351.7 L1144.0,1367.1 L1146.0,1386.5 L1147.9,1406.1 L1151.8,1417.2 L1160.6,1413.3 L1163.5,1427.4 L1165.5,1447.3 L1168.4,1464.2 L1171.4,1447.9 L1174.3,1444.1 L1178.2,1443.7 L1181.1,1452.3 L1184.1,1459.2 L1188.0,1454.3 L1191.9,1465.2 L1195.8,1448.5 L1197.8,1436.7 L1200.7,1435.8 L1202.6,1448.5 L1204.6,1462.2 L1207.5,1444.5 L1211.4,1437.8 L1215.4,1440.6 L1218.3,1457.3 L1223.2,1452.4 L1226.1,1450.5 L1231.0,1448.5 L1233.0,1441.6 L1235.9,1440.7 L1240.8,1442.6 L1245.7,1442.7 L1249.6,1438.7 L1255.4,1436.8 L1259.3,1443.5 L1263.3,1447.4 L1267.2,1452.4 L1271.1,1457.8 L1276.0,1456.3 L1281.8,1452.5 L1284.8,1434.5 L1290.6,1431.0 L1293.6,1438.4 L1295.5,1448.2 L1298.4,1450.5 L1301.4,1438.4 L1303.3,1418.8 L1306.3,1416.7 L1311.2,1427.5 L1315.1,1417.2 L1320.0,1418.2 L1323.9,1424.9 L1327.8,1433.5 L1331.7,1418.8 L1334.6,1401.2 L1337.5,1399.0 L1341.5,1403.4 L1345.4,1405.5 L1350.3,1401.2 L1356.1,1402.5 L1363.9,1407.5 L1366.9,1418.9 L1370.0,1423.0 L1374.9,1423.0 L1378.8,1409.5 L1382.7,1415.2 L1385.6,1428.9 L1388.6,1432.2 L1391.5,1419.1 L1395.4,1415.8 L1400.3,1415.2 L1406.2,1405.2 L1410.1,1407.0 L1412.0,1416.7 L1414.0,1436.2 L1417.9,1444.1 L1421.2,1447.2 L1426.7,1440.6 L1432.6,1434.8 L1435.5,1428.9 L1438.4,1428.0 L1441.4,1434.7 L1443.3,1447.2 L1448.2,1442.2 L1452.1,1434.1 L1456.0,1428.1 L1458.0,1408.7 L1460.9,1401.5 L1466.8,1401.5 L1471.7,1398.2 L1475.6,1407.4 L1479.5,1413.0 L1483.4,1401.5 L1487.3,1397.0 L1490.2,1405.2 L1493.2,1423.0 L1497.1,1408.1 L1501.0,1393.7 L1504.9,1383.4 L1507.8,1371.5 L1510.8,1353.9 L1513.7,1340.4 L1516.6,1327.4 L1520.5,1320.7 L1523.5,1309.6 L1526.4,1306.8 L1529.3,1306.2 L1531.9,1316.0 L1533.6,1339.1 L1535.6,1354.7 L1537.5,1368.4 L1540.5,1374.6 L1544.0,1379.1 L1546.0,1393.2 L1550.8,1383.9 L1554.8,1369.6 L1557.7,1365.1 L1562.6,1353.0 L1566.5,1339.3 L1570.4,1328.0 L1574.3,1323.3 L1579.2,1323.3 L1583.7,1311.2 L1587.0,1324.2 L1591.9,1322.5 L1594.2,1344.6 L1597.2,1358.3 L1598.7,1383.7 L1602.6,1384.1 L1607.5,1382.0 L1612.4,1395.0 L1617.3,1399.2 L1622.2,1390.2 L1628.1,1397.6 L1633.0,1409.5 L1637.8,1395.7 L1641.7,1388.2 L1647.6,1388.8 L1652.5,1386.0 L1657.4,1392.3 L1661.3,1383.1 L1664.2,1361.5 L1667.2,1361.0 L1672.1,1363.5 L1675.0,1349.5 L1678.9,1345.8 L1683.8,1346.2 L1687.7,1340.8 L1689.6,1321.4 L1692.6,1312.5 L1694.9,1312.2 L1698.4,1321.7 L1701.4,1338.7 L1704.3,1357.9 L1706.3,1373.4 L1711.2,1381.1 L1715.1,1393.2 L1718.0,1417.0 L1720.9,1423.4 L1723.9,1425.5 L1727.8,1419.2 L1732.7,1428.3 L1740.5,1422.2 L1743.4,1429.3 L1752.2,1423.0 L1756.1,1434.2 L1761.0,1434.8 L1764.9,1438.2 L1768.8,1426.9 L1770.0,1427.9 L1775.9,1426.0 L1780.8,1426.9 L1786.6,1424.5 L1791.5,1428.9 L1797.4,1432.2 L1802.3,1426.9 L1805.2,1421.1 L1810.1,1418.5 L1816.9,1419.1 L1822.8,1416.7 L1826.7,1425.0 L1830.6,1433.8 L1835.5,1432.8 L1837.4,1409.4 L1839.4,1398.6 L1841.9,1397.7 L1845.3,1405.4 L1848.2,1419.1 L1852.1,1428.9 L1858.0,1430.0 L1863.8,1428.9 L1868.7,1419.8 L1872.6,1423.0 L1876.5,1428.9 L1880.5,1435.8 L1885.3,1428.9 L1889.3,1417.2 L1894.1,1409.4 L1896.1,1408.8 L1900.0,1419.1 L1902.9,1432.8 L1905.3,1435.8 L1909.8,1419.1 L1914.3,1409.0 L1917.6,1413.3 L1920.5,1425.0 L1923.5,1434.8 L1926.4,1439.2 L1931.3,1428.9 L1936.2,1423.7 L1942.0,1427.8 L1945.0,1429.0 L1948.9,1420.9 L1952.8,1413.8 L1957.7,1417.1 L1962.6,1418.2 L1966.5,1407.4 L1970.4,1404.5 L1976.3,1402.5 L1980.2,1411.1 L1984.1,1422.8 L1989.0,1428.9 L1991.9,1438.7 L1994.8,1442.0 L1998.7,1428.8 L2000.7,1409.3 L2004.6,1407.8 L2012.4,1408.8 L2018.3,1413.3 L2020.2,1424.9 L2024.2,1428.0 L2031.0,1423.0 L2038.8,1418.8 L2042.7,1428.0 L2049.6,1421.2 L2054.5,1426.8 L2058.4,1438.7 L2061.3,1440.7 L2067.2,1439.8 L2073.0,1432.8 L2076.9,1421.1 L2080.9,1415.2 L2083.4,1414.7 L2085.7,1428.9 L2089.6,1433.5 L2094.5,1428.9 L2100.4,1426.9 L2104.7,1426.9 L2108.0,1426.9"/>
</g>
<text class="tick" x="180.0" y="1744.6">10</text>
<text class="tick" x="455.6" y="1744.6">20</text>
<text class="tick" x="731.2" y="1744.6">30</text>
<text class="tick" x="1006.8" y="1744.6">40</text>
<text class="tick" x="1282.4" y="1744.6">50</text>
<text class="tick" x="1558.0" y="1744.6">60</text>
<text class="tick" x="1833.6" y="1744.6">70</text>
<text class="tick" x="2109.2" y="1744.6">80</text>
<text class="sym dia" transform="translate(412.7,483.5) scale(1.03,1)" font-size="59.5">♦</text>
<text class="sym dia" transform="translate(727.1,589.3) scale(1.03,1)" font-size="59.5">♦</text>
<text class="sym dia" transform="translate(814.7,524.0) scale(1.03,1)" font-size="59.5">♦</text>
<text class="sym dia" transform="translate(909.9,130.2) scale(1.03,1)" font-size="59.5">♦</text>
<text class="sym dia" transform="translate(1136.9,597.3) scale(1.03,1)" font-size="59.5">♦</text>
<text class="sym dia" transform="translate(1518.3,586.4) scale(1.03,1)" font-size="59.5">♦</text>
<text class="sym dia" transform="translate(1593.7,582.1) scale(1.03,1)" font-size="59.5">♦</text>
<text class="sym dia" transform="translate(1692.7,637.2) scale(1.03,1)" font-size="59.5">♦</text>
<text class="sym dia" transform="translate(401.8,1221.2) scale(1.03,1)" font-size="59.5">♦</text>
<text class="sym dia" transform="translate(712.8,1252.3) scale(1.03,1)" font-size="59.5">♦</text>
<text class="sym dia" transform="translate(809.6,1146.0) scale(1.03,1)" font-size="59.5">♦</text>
<text class="sym dia" transform="translate(898.7,852.2) scale(1.03,1)" font-size="59.5">♦</text>
<text class="sym dia" transform="translate(1130.8,1248.1) scale(1.03,1)" font-size="59.5">♦</text>
<text class="sym dia" transform="translate(1525.7,1279.2) scale(1.03,1)" font-size="59.5">♦</text>
<text class="sym dia" transform="translate(1587.7,1292.1) scale(1.03,1)" font-size="59.5">♦</text>
<text class="sym dia" transform="translate(1689.7,1292.1) scale(1.03,1)" font-size="59.5">♦</text>
<text class="sym dia" transform="translate(1573.7,163.0) scale(1.03,1)" font-size="59.5">♦</text>
<text class="sym club" transform="translate(300.5,632.5) scale(1.07,1)" font-size="58">♣</text>
<text class="sym club" transform="translate(613.4,637.5) scale(1.07,1)" font-size="58">♣</text>
<text class="sym club" transform="translate(1583.6,298.7) scale(1.07,1)" font-size="58">♣</text>
<text class="leg" x="1622" y="160">CoMn<tspan font-size="48" dy="19.5">2</tspan><tspan dy="-19.5">O</tspan><tspan font-size="48" dy="19.5">4</tspan></text>
<text class="leg" x="1630" y="296.3">MnSO<tspan font-size="48" dy="19.5">4</tspan></text>
<text class="lab" x="1711" y="531.2">After SO<tspan font-size="62.5" dy="24">2</tspan></text>
<text class="lab" x="1855.5" y="1324.6">Fresh</text>
<text class="lab b" transform="translate(97.6,866.7) rotate(-90)" text-anchor="middle">Intensity (a.u.)</text>
<text class="xl" y="1872"><tspan class="lab b" x="838">2θ</tspan> <tspan text-anchor="middle" font-size="86" x="998.5" y="1869.5" stroke="#000" stroke-width="0.8">(</tspan><tspan text-anchor="middle" font-size="96" y="1872" stroke="#000" stroke-width="2.2" x="1037 1084 1131 1178 1225 1272">degree</tspan><tspan text-anchor="middle" font-size="86" x="1311" y="1869.5" stroke="#000" stroke-width="0.8">)</tspan></text>
</svg></body></html>
